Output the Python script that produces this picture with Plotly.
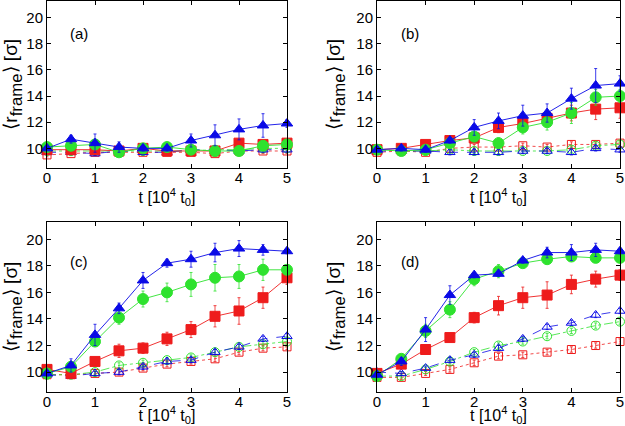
import plotly.graph_objects as go

t = [0, 0.5, 1, 1.5, 2, 2.5, 3, 3.5, 4, 4.5, 5]
panel_labels = ["(a)", "(b)", "(c)", "(d)"]

# Filled series (solid lines)
red_fill = {
    "a": [9.9, 9.9, 9.9, 9.8, 10.0, 9.8, 9.8, 9.8, 10.4, 10.3, 10.4],
    "b": [9.9, 10.0, 10.3, 10.6, 10.8, 11.6, 11.9, 12.3, 12.7, 13.0, 13.1],
    "c": [10.2, 9.9, 10.8, 11.6, 11.8, 12.5, 13.2, 14.2, 14.6, 15.6, 17.1],
    "d": [9.9, 10.6, 11.7, 12.6, 14.1, 15.0, 15.6, 15.8, 16.6, 17.0, 17.3],
}
red_fill_err = {
    "a": [0.2, 0.2, 0.2, 0.2, 0.2, 0.2, 0.2, 0.2, 0.3, 0.3, 0.3],
    "b": [0.2, 0.2, 0.2, 0.2, 0.3, 0.4, 0.4, 0.5, 0.6, 0.8, 0.8],
    "c": [0.2, 0.3, 0.3, 0.5, 0.4, 0.5, 0.6, 0.8, 1.0, 0.8, 0.5],
    "d": [0.2, 0.3, 0.3, 0.3, 0.4, 0.7, 0.8, 1.0, 0.7, 0.6, 0.4],
}
green_fill = {
    "a": [10.1, 10.2, 10.3, 9.7, 10.0, 10.1, 9.9, 9.8, 9.8, 10.2, 10.3],
    "b": [9.9, 9.8, 9.9, 10.4, 10.9, 10.4, 11.6, 12.0, 12.7, 13.9, 14.0],
    "c": [9.9, 10.4, 12.3, 14.1, 15.5, 16.0, 16.6, 17.1, 17.2, 17.7, 17.7],
    "d": [9.7, 11.0, 13.1, 14.7, 17.0, 17.6, 18.2, 18.5, 18.7, 18.6, 18.6],
}
green_fill_err = {
    "a": [0.2, 0.2, 0.2, 0.2, 0.2, 0.2, 0.2, 0.2, 0.2, 0.3, 0.3],
    "b": [0.2, 0.2, 0.2, 0.2, 0.3, 0.4, 0.5, 0.6, 0.8, 0.6, 0.5],
    "c": [0.2, 0.3, 0.3, 0.5, 0.6, 0.7, 0.9, 1.0, 0.9, 0.8, 0.3],
    "d": [0.2, 0.3, 0.5, 0.6, 0.5, 0.5, 0.3, 0.2, 0.3, 0.3, 0.2],
}
blue_fill = {
    "a": [10.0, 10.7, 10.4, 10.1, 10.0, 10.0, 10.6, 11.0, 11.45, 11.75, 11.9],
    "b": [9.9, 10.0, 9.9, 10.6, 11.6, 12.1, 12.5, 12.7, 13.8, 14.8, 14.95],
    "c": [9.9, 10.5, 12.8, 14.8, 16.9, 18.2, 18.5, 19.0, 19.3, 19.2, 19.1],
    "d": [9.8, 10.8, 13.2, 15.8, 17.3, 17.4, 18.4, 19.0, 19.0, 19.2, 19.1],
}
blue_fill_err = {
    "a": [0.1, 0.3, 0.7, 0.4, 0.2, 0.2, 0.5, 0.8, 0.8, 0.9, 0.3],
    "b": [0.1, 0.2, 0.2, 0.2, 0.6, 0.6, 0.8, 0.7, 0.8, 1.3, 0.6],
    "c": [0.2, 0.5, 0.8, 0.4, 0.6, 0.3, 0.6, 0.7, 0.6, 0.4, 0.2],
    "d": [0.2, 0.3, 0.9, 0.7, 0.2, 0.2, 0.2, 0.4, 0.6, 0.5, 0.2],
}

# Open series (broken lines)
red_open = {
    "a": [9.5, 9.6, 9.7, 9.7, 9.7, 9.7, 9.7, 9.6, 9.8, 9.8, 9.8],
    "b": [9.7, 9.8, 9.7, 10.0, 10.1, 10.1, 10.2, 10.1, 10.3, 10.3, 10.4],
    "c": [9.8, 9.8, 9.9, 10.0, 10.3, 10.6, 10.8, 11.0, 11.5, 11.8, 11.9],
    "d": [9.6, 9.6, 9.9, 10.2, 10.7, 11.2, 11.3, 11.5, 11.7, 12.0, 12.3],
}
green_open = {
    "a": [9.8, 9.8, 9.8, 9.8, 9.8, 9.8, 9.8, 9.9, 9.9, 10.0, 10.0],
    "b": [9.9, 9.8, 9.8, 9.9, 9.8, 9.8, 9.8, 9.8, 9.9, 10.2, 10.3],
    "c": [9.8, 9.8, 10.0, 10.5, 10.7, 10.9, 11.1, 11.5, 11.9, 12.1, 12.3],
    "d": [9.7, 9.7, 10.2, 10.8, 11.5, 12.0, 12.3, 12.7, 13.1, 13.5, 13.8],
}
blue_open = {
    "a": [9.7, 9.7, 9.6, 9.8, 9.7, 9.7, 9.9, 9.9, 9.8, 9.9, 9.9],
    "b": [9.8, 9.8, 9.8, 9.7, 9.7, 9.7, 9.8, 9.8, 9.7, 10.0, 9.9],
    "c": [9.8, 9.7, 9.9, 10.0, 10.4, 10.8, 10.9, 11.5, 11.9, 12.5, 12.7],
    "d": [10.0, 9.9, 10.3, 10.9, 11.3, 11.8, 12.5, 13.4, 13.7, 14.3, 14.6],
}
open_err = [0.15, 0.15, 0.15, 0.2, 0.2, 0.2, 0.2, 0.2, 0.2, 0.2, 0.2]

RED = "#ee1c1c"
GREEN = "#2ee22e"
BLUE = "#0a0ae6"

fig = go.Figure()

keys = ["a", "b", "c", "d"]
axes_ids = ["", "2", "3", "4"]

def add(k, ax, y, err, color, symbol, size, dash, width):
    fig.add_trace(go.Scatter(
        x=t, y=y, mode="lines+markers",
        xaxis="x" + ax, yaxis="y" + ax,
        line=dict(color=color, width=width, dash=dash),
        marker=dict(symbol=symbol, size=size, color=color,
                    line=dict(color=color, width=1)),
        error_y=dict(type="data", array=err, color=color,
                     thickness=0.8, width=1.5),
        showlegend=False, cliponaxis=False,
    ))

for k, ax in zip(keys, axes_ids):
    add(k, ax, red_open[k], open_err, RED, "square-open", 8, "dot", 0.8)
    add(k, ax, green_open[k], open_err, GREEN, "circle-open", 9, "dashdot", 0.8)
    add(k, ax, blue_open[k], open_err, BLUE, "triangle-up-open", 9, "dash", 0.8)
    add(k, ax, red_fill[k], red_fill_err[k], RED, "square", 10, "solid", 0.9)
    add(k, ax, green_fill[k], green_fill_err[k], GREEN, "circle", 11, "solid", 0.9)
    add(k, ax, blue_fill[k], blue_fill_err[k], BLUE, "triangle-up", 10, "solid", 0.9)

W, H = 625, 426
xdom_left = [47 / W, 287 / W]
xdom_right = [377 / W, 620 / W]
ydom_top = [1 - 168 / H, 1 - 0.5 / H]
ydom_bot = [1 - 392 / H, 1 - 222 / H]

FAM = "Liberation Sans, Arial, Helvetica, sans-serif"
tickfont = dict(family=FAM, size=15, color="black")
xtitlefont = dict(family=FAM, size=16, color="black")
ytitlefont = dict(family=FAM, size=19, color="black")

YTITLE = '⟨r<span style="font-size:24px"><sub>frame</sub></span>⟩ [σ]'
XTITLE = "t [10<sup>4</sup> t<sub>0</sub>]"

def xa(dom, anchor):
    return dict(domain=dom, anchor=anchor, range=[0, 5], tickvals=[0, 1, 2, 3, 4, 5],
                ticks="inside", ticklen=4, tickcolor="black", mirror="ticks",
                showline=True, linecolor="black", linewidth=1, showgrid=False,
                zeroline=False, tickfont=tickfont, automargin=False,
                ticklabelstandoff=-4,
                title=dict(text=XTITLE, font=xtitlefont, standoff=0))

def ya(dom, anchor):
    return dict(domain=dom, anchor=anchor, range=[8.5, 21.3], tickvals=[10, 12, 14, 16, 18, 20],
                ticks="inside", ticklen=4, tickcolor="black", mirror="ticks",
                showline=True, linecolor="black", linewidth=1, showgrid=False,
                zeroline=False, tickfont=tickfont, automargin=False,
                ticklabelstandoff=0,
                title=dict(text=YTITLE, font=ytitlefont, standoff=10))

fig.update_layout(
    width=W, height=H,
    margin=dict(l=0, r=0, t=0, b=0, autoexpand=False),
    paper_bgcolor="white", plot_bgcolor="white",
    font=tickfont,
    xaxis=xa(xdom_left, "y"), yaxis=ya(ydom_top, "x"),
    xaxis2=xa(xdom_right, "y2"), yaxis2=ya(ydom_top, "x2"),
    xaxis3=xa(xdom_left, "y3"), yaxis3=ya(ydom_bot, "x3"),
    xaxis4=xa(xdom_right, "y4"), yaxis4=ya(ydom_bot, "x4"),
)

label_y = [18.8, 18.8, 18.3, 18.3]
for lab, ax, ly in zip(panel_labels, axes_ids, label_y):
    fig.add_annotation(x=0.67, y=ly, xref="x" + ax, yref="y" + ax, text=lab,
                       showarrow=False, font=tickfont)

fig.write_html("out.html", config={"displayModeBar": False},
               post_script="document.body.style.margin='0';document.body.style.overflow='hidden';")
